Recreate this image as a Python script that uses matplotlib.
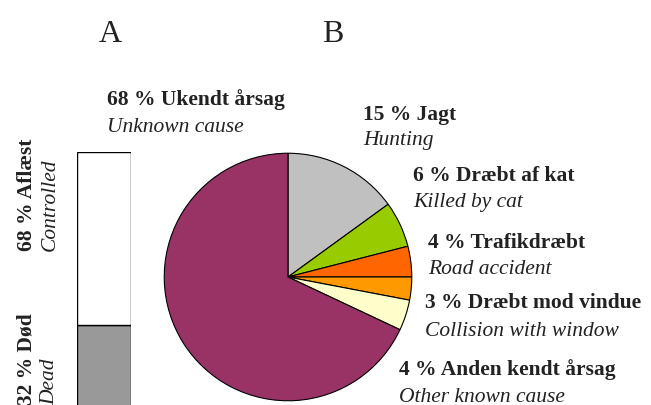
import matplotlib
matplotlib.use('Agg')
import matplotlib.pyplot as plt

W, H = 651, 405
plt.rcParams['font.family'] = ['Liberation Serif', 'DejaVu Serif']

# data
bar_labels = ['Død', 'Aflæst']
bar_values = [32, 68]
bar_colors = ['#999999', '#ffffff']

pie_dk = ['Jagt', 'Dræbt af kat', 'Trafikdræbt', 'Dræbt mod vindue', 'Anden kendt årsag', 'Ukendt årsag']
pie_en = ['Hunting', 'Killed by cat', 'Road accident', 'Collision with window', 'Other known cause', 'Unknown cause']
pie_values = [15, 6, 4, 3, 4, 68]
pie_colors = ['#c0c0c0', '#99cc00', '#ff6600', '#ff9900', '#ffffcc', '#993366']

# label positions in pixels (x left, y of first line, y of second line)
pie_pos = [(363, 115, 141), (413, 176, 203), (428, 243, 270),
           (425, 303, 332), (399, 370, 397), (107, 100, 127)]

fig = plt.figure(figsize=(W / 100, H / 100), dpi=100)


def px(x, y):
    return x / W, 1 - y / H


# A: stacked bar
axb = fig.add_axes([77 / W, (H - 406) / H, 54 / W, 254 / H])
bottom = 0
for v, c in zip(bar_values, bar_colors):
    axb.bar(0, v, bottom=bottom, width=1, color=c, edgecolor='black', linewidth=1)
    bottom += v
axb.set_xlim(-0.5, 0.5)
axb.set_ylim(0, 100)
axb.axis('off')

# B: pie
axp = fig.add_axes([163 / W, (H - 402) / H, 250 / W, 250 / H])
axp.pie(pie_values, colors=pie_colors, startangle=90, counterclock=False,
        wedgeprops=dict(edgecolor='black', linewidth=0.8))
axp.set_xlim(-1.01, 1.01)
axp.set_ylim(-1.01, 1.01)
axp.set_aspect('equal')
axp.axis('off')

fs = 15.5
for v, dk, en, (x, y1, y2) in zip(pie_values, pie_dk, pie_en, pie_pos):
    fig.text(*px(x, y1), f'{v} % {dk}', fontsize=fs, fontweight='bold', ha='left', va='center', color='#222222')
    fig.text(*px(x, y2), en, fontsize=fs, fontstyle='italic', ha='left', va='center', color='#222222')

# rotated bar labels
bar_en = ['Dead', 'Controlled']
bar_pos = [(27, 50, 405), (27, 50, 251)]
for v, dk, en, (x1, x2, y) in zip(bar_values, bar_labels, bar_en, bar_pos):
    fig.text(*px(x1, y), f'{v} % {dk}', fontsize=fs, fontweight='bold', rotation=90,
             ha='center', va='bottom', color='#222222')
    fig.text(*px(x2, y), en, fontsize=fs, fontstyle='italic', rotation=90,
             ha='center', va='bottom', color='#222222')

fig.text(*px(110, 34), 'A', fontsize=23, ha='center', va='center', color='#222222')
fig.text(*px(333, 34), 'B', fontsize=23, ha='center', va='center', color='#222222')

fig.savefig('out.png', dpi=100)
